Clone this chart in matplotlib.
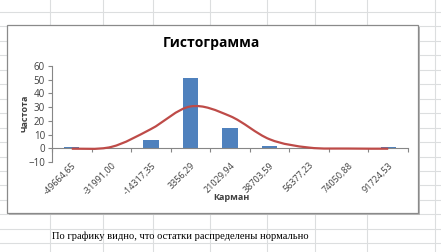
import matplotlib
matplotlib.use("Agg")
import matplotlib.pyplot as plt
from matplotlib.path import Path
from matplotlib.patches import PathPatch, Rectangle
from matplotlib.lines import Line2D
import numpy as np

# ---- data ----
bins = ["-49664,65", "-31991,00", "-14317,35", "3356,29", "21029,94",
        "38703,59", "56377,23", "74050,88", "91724,53"]
frequency = [1, 0, 6, 51, 15, 2, 0, 0, 1]
normal_curve = [-0.3, 1.0, 14.0, 30.5, 23.5, 6.6, 0.5, -0.2, -0.3]
title = "Гистограмма"
xlabel = "Карман"
ylabel = "Частота"
footer = "По графику видно, что остатки распределены нормально"

W, H = 441, 252
fig = plt.figure(figsize=(W / 100, H / 100), dpi=100)
fig.patch.set_facecolor("white")

def fx(px):
    return px / W

def fy(py):
    return 1 - py / H

# spreadsheet grid (background)
grid_c = "#dcdedf"
for cx in [50, 103, 153, 210, 267, 315, 367, 435]:
    fig.add_artist(Line2D([fx(cx), fx(cx)], [0, 1], color=grid_c, lw=0.8, zorder=0))
for k in range(17):
    ry = 12 + 14.45 * k
    fig.add_artist(Line2D([0, 1], [fy(ry), fy(ry)], color=grid_c, lw=0.8, zorder=0))

# chart area with shadow
x0, y0, x1, y1 = 7, 25, 418, 213
fig.add_artist(Rectangle((fx(x0 + 2), fy(y1 + 2)), fx(x1 - x0), (y1 - y0) / H,
                         transform=fig.transFigure, facecolor="#b8b8b8",
                         edgecolor="none", zorder=1))
fig.add_artist(Rectangle((fx(x0), fy(y1)), fx(x1 - x0), (y1 - y0) / H,
                         transform=fig.transFigure, facecolor="white",
                         edgecolor="#8a8a8a", lw=0.9, zorder=2))

# plot area
pl, pr, pt, pb = 52, 408, 66, 162
ax = fig.add_axes([fx(pl), fy(pb), fx(pr - pl), (pb - pt) / H], zorder=3)
ax.set_facecolor("none")

x = np.arange(len(bins))
ax.bar(x, frequency, width=0.39, color="#4f81bd", zorder=2)

# smoothed line (Excel-like Bezier through the points)
pts = np.column_stack([x, normal_curve]).astype(float)
n = len(pts)
verts = [tuple(pts[0])]
codes = [Path.MOVETO]
for i in range(n - 1):
    p0 = pts[i - 1] if i > 0 else pts[i]
    p1 = pts[i]
    p2 = pts[i + 1]
    p3 = pts[i + 2] if i + 2 < n else pts[i + 1]
    c1 = p1 + (p2 - p0) / 6
    c2 = p2 - (p3 - p1) / 6
    verts += [tuple(c1), tuple(c2), tuple(p2)]
    codes += [Path.CURVE4] * 3
ax.add_patch(PathPatch(Path(verts, codes), facecolor="none",
                       edgecolor="#be4b48", lw=1.6, zorder=3))

ax.set_xlim(-0.5, len(bins) - 0.5)
ax.set_ylim(-10, 60)
ax.set_yticks(range(-10, 61, 10))

for s in ["top", "right"]:
    ax.spines[s].set_visible(False)
ax.spines["bottom"].set_position(("data", 0))
ax.spines["left"].set_color("#868686")
ax.spines["bottom"].set_color("#868686")
ax.spines["left"].set_linewidth(0.8)
ax.spines["bottom"].set_linewidth(0.8)

ax.set_xticks(x)
ax.set_xticks(np.arange(-0.5, len(bins)), minor=True)
ax.set_xticklabels(bins, rotation=45, ha="right", rotation_mode="anchor",
                   fontsize=6.5, color="#404040", family="Open Sans")
ax.tick_params(axis="x", which="major", length=0, pad=9)
ax.tick_params(axis="x", which="minor", length=3, color="#868686", width=0.8,
               direction="out")
ax.tick_params(axis="y", length=3, color="#868686", width=0.8, labelsize=7,
               labelcolor="#404040", pad=2)
for lab in ax.get_yticklabels():
    lab.set_family("Open Sans")

fig.text(fx(211), fy(43), title, ha="center", va="center", fontsize=10,
         fontweight="bold", family="Open Sans", zorder=4)
fig.text(fx(231), fy(197), xlabel, ha="center", va="center", fontsize=6.5,
         fontweight="bold", family="Open Sans", color="#404040", zorder=4)
fig.text(fx(25), fy(113), ylabel, ha="center", va="center", fontsize=6.5,
         fontweight="bold", rotation=90, family="Open Sans", color="#404040", zorder=4)
fig.text(fx(52), fy(236), footer, ha="left", va="center", fontsize=7.6,
         family="Liberation Serif", color="black", zorder=4)

fig.savefig("out.png", dpi=100)
